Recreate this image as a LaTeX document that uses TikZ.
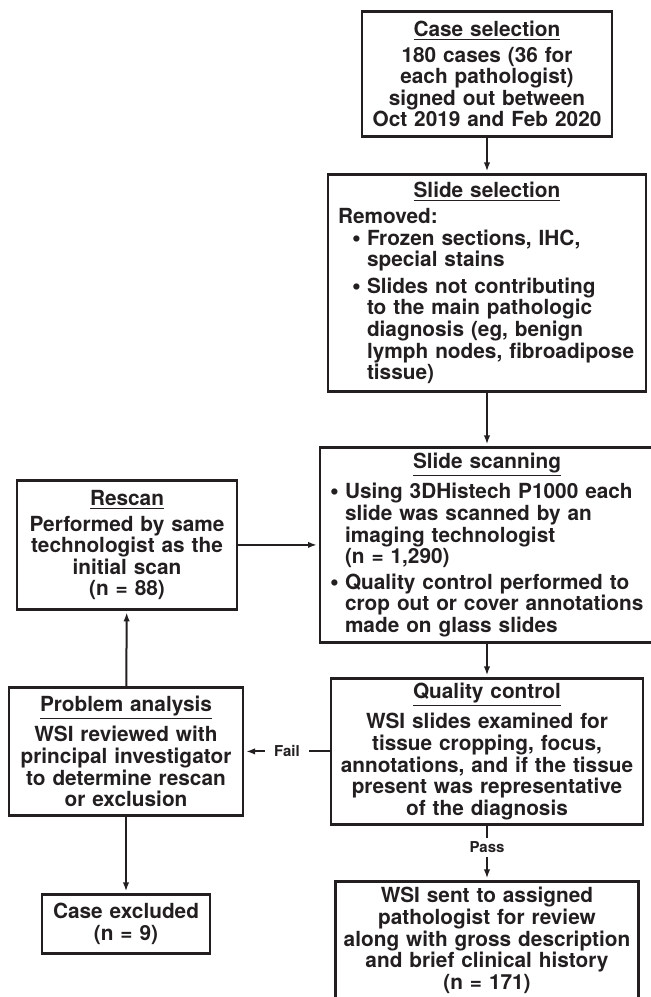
\documentclass[tikz,border=0pt]{standalone}
\usepackage{fontspec}
\setmainfont{TeX Gyre Heros}
\usetikzlibrary{positioning,arrows.meta}
\definecolor{ink}{RGB}{35,31,32}

\newcommand{\boxhead}[1]{{\centering\underline{#1}\par}\vspace{2.2pt}}
\newcommand{\itm}[1]{\hspace*{#1}\makebox[7.5pt][l]{\raisebox{-0.5pt}{\fontsize{12.5}{10}\selectfont\textbullet}}}

\begin{document}
\begin{tikzpicture}[x=0.5pt,y=-0.5pt,
    font=\fontsize{10.4}{10.8}\selectfont\bfseries,
    box/.style={draw=ink,line width=1.4pt,text=ink,inner xsep=2pt,inner ysep=2pt,align=center},
    leftbox/.style={box,align=left},
    flow/.style={-{Latex[length=4.5pt,width=3.2pt]},line width=1pt,draw=ink,shorten >=0.8pt},
    lbl/.style={fill=white,text=ink,font=\fontsize{7.5}{9}\selectfont\bfseries}]
  \useasboundingbox (0,0) rectangle (650,997);

  % main column
  \node[box,minimum width=125pt,minimum height=62.5pt,text width=121pt,anchor=north] (case) at (487,10)
    {\boxhead{Case selection}180 cases (36 for\\each pathologist)\\signed out between\\Oct 2019 and Feb 2020};
  \node[leftbox,minimum width=159pt,minimum height=108.5pt,text width=149pt,inner xsep=5pt,below=17.6pt of case] (slsel)
    {\boxhead{Slide selection}Removed:\\
     \itm{7pt}Frozen sections, IHC,\\ \hspace*{14.5pt}special stains\\[2.5pt]
     \itm{7pt}Slides not contributing\\ \hspace*{14.5pt}to the main pathologic\\
     \hspace*{14.5pt}diagnosis (eg, benign\\ \hspace*{14.5pt}lymph nodes, fibroadipose\\
     \hspace*{14.5pt}tissue)};
  \node[leftbox,minimum width=167pt,minimum height=97.5pt,text width=159pt,inner xsep=4pt,below=26.6pt of slsel] (scan)
    {\boxhead{Slide scanning}
     \itm{1pt}Using 3DHistech P1000 each\\ \hspace*{8.5pt}slide was scanned by an\\
     \hspace*{8.5pt}imaging technologist\\ \hspace*{8.5pt}(n = 1,290)\\[2pt]
     \itm{1pt}Quality control performed to\\ \hspace*{8.5pt}crop out or cover annotations\\
     \hspace*{8.5pt}made on glass slides};
  \node[box,minimum width=156pt,minimum height=73pt,text width=152pt,below=16.6pt of scan] (qc)
    {\boxhead{Quality control}WSI slides examined for\\tissue cropping, focus,\\annotations, and if the tissue\\present was representative\\of the diagnosis};
  \node[box,minimum width=151.5pt,minimum height=59pt,text width=147.5pt,below=27.1pt of qc] (final)
    {WSI sent to assigned\\pathologist for review\\along with gross description\\and brief clinical history\\(n = 171)};

  % side column
  \node[box,minimum width=110pt,minimum height=64.5pt,text width=106pt,left=40.1pt of scan] (rescan)
    {\boxhead{Rescan}Performed by same\\technologist as the\\initial scan\\(n = 88)};
  \node[box,minimum width=117pt,minimum height=64pt,text width=113pt,left=42.6pt of qc] (pa)
    {\boxhead{Problem analysis}WSI reviewed with\\principal investigator\\to determine rescan\\or exclusion};
  \node[box,minimum width=84pt,minimum height=29.5pt,text width=80pt,below=38.1pt of pa] (excl)
    {Case excluded\\(n = 9)};

  \draw[flow] (case) -- (slsel);
  \draw[flow] (slsel) -- (scan);
  \draw[flow] (scan) -- (qc);
  \draw[flow] (qc) -- node[lbl,pos=0.4,inner xsep=1pt,inner ysep=2.2pt]{Pass} (final);
  \draw[flow] (qc.west) -- node[lbl,midway,inner xsep=4.7pt,inner ysep=1pt]{Fail} (pa.east |- qc.west);
  \draw[flow] (pa) -- (rescan);
  \draw[flow] (rescan.east) -- (scan.west |- rescan.east);
  \draw[flow] (pa) -- (excl);
\end{tikzpicture}
\end{document}
